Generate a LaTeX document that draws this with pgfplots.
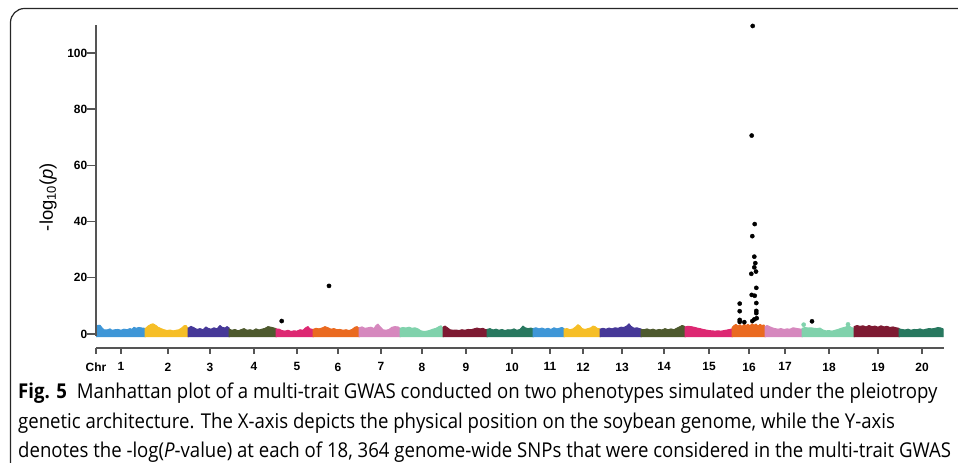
\documentclass[border=0pt]{standalone}
\usepackage{fontspec}
\usepackage{pgfplots}
\pgfplotsset{compat=1.18}
\setmainfont{Liberation Sans}
\newfontfamily\capfont[FakeStretch=0.91]{Open Sans}

\definecolor{cblue}{RGB}{62,150,215}
\definecolor{cyellow}{RGB}{246,190,38}
\definecolor{cpurple}{RGB}{70,56,152}
\definecolor{colive}{RGB}{78,90,46}
\definecolor{cpink}{RGB}{221,40,114}
\definecolor{corange}{RGB}{234,106,32}
\definecolor{clpink}{RGB}{214,136,190}
\definecolor{cmint}{RGB}{128,210,172}
\definecolor{cdred}{RGB}{126,26,50}
\definecolor{cteal}{RGB}{40,120,95}
\definecolor{axgray}{RGB}{85,85,85}

\begin{document}
\begin{tikzpicture}
\useasboundingbox (0,0) rectangle (958bp,463bp);

% frame of the figure box
\draw[line width=1.2bp, rounded corners=14bp, black!85] (10.5bp,-5bp) -- (10.5bp,454.5bp) -- (970bp,454.5bp);

\begin{axis}[
    at={(96bp,115bp)}, anchor=south west,
    scale only axis, width=848bp, height=328.77bp,
    xmin=0, xmax=848, ymin=-5, ymax=112,
    clip=false,
    axis x line*=bottom, axis y line*=left,
    y axis line style={draw=none},
    x axis line style={draw=axgray, line width=1.3bp},
    tick align=outside,
    major tick style={axgray, line width=1.3bp},
    xtick style={/pgfplots/major tick length=5.7bp},
    ytick style={/pgfplots/major tick length=8.7bp},
    ytick={0,20,40,60,80,100},
    xtick={0,25,72,114,158,201,242,285,326,370,416,454,487,526,568,613,653,689,733,782,826},
    xticklabels={Chr,1,2,3,4,5,6,7,8,9,10,11,12,13,14,15,16,17,18,19,20},
    /pgf/number format/assume math mode=true,
    ticklabel style={font=\fontsize{12}{14}\selectfont\bfseries},
    xticklabel style={yshift=-7bp},
    yticklabel style={xshift=-1bp},
    band/.style={fill=#1, draw=#1, line width=1bp, line join=round},
]
% chromosome 1
\addplot[band=cblue] coordinates {(0.5,-1.1) (0.5,2.2) (1.5,3.0) (4,3.1) (6,2.2) (8,1.5) (11,1.4) (14,1.8) (16,1.3) (19,1.5) (22,1.6) (25,1.3) (28,1.7) (31,1.5) (34,1.9) (36,1.6) (38,2.4) (40,2.0) (43,2.3) (46,2.1) (49,2.0) (49,-1.1)};
% chromosome 2
\addplot[band=cyellow] coordinates {(49,-1.1) (49,1.8) (52,2.8) (55,3.4) (57,3.6) (60,3.0) (62,2.4) (65,1.9) (68,1.5) (71,1.2) (74,1.4) (77,1.1) (80,1.3) (83,1.5) (86,2.2) (88,2.9) (90,3.0) (92,2.0) (92,-1.1)};
% chromosome 3
\addplot[band=cpurple] coordinates {(92,-1.1) (92,2.0) (95,2.7) (98,2.2) (101,1.6) (104,1.9) (107,1.5) (110,2.5) (112,2.0) (115,1.7) (118,2.2) (121,1.8) (124,3.0) (126,2.4) (129,2.1) (131,2.6) (133,2.2) (133,-1.1)};
% chromosome 4
\addplot[band=colive] coordinates {(133,-1.1) (133,1.8) (136,1.3) (139,1.6) (142,1.1) (145,1.5) (148,1.9) (151,1.3) (154,1.5) (157,1.2) (160,1.8) (163,1.4) (166,1.7) (169,2.0) (172,2.6) (175,2.4) (178,2.1) (180,1.9) (180,-1.1)};
% chromosome 5
\addplot[band=cpink] coordinates {(180,-1.1) (180,1.8) (183,1.7) (186,1.2) (189,1.0) (192,1.3) (195,0.9) (198,1.1) (201,1.0) (204,1.5) (207,1.3) (210,2.3) (212,2.6) (214,1.8) (217,1.6) (217,-1.1)};
% chromosome 6
\addplot[band=corange] coordinates {(217,-1.1) (217,1.6) (220,2.0) (223,1.8) (226,2.1) (229,2.6) (232,2.2) (235,1.7) (238,1.9) (241,1.5) (244,1.6) (247,1.3) (250,1.5) (253,1.2) (256,1.6) (259,2.4) (261,2.6) (263,2.0) (263,-1.1)};
% chromosome 7
\addplot[band=clpink] coordinates {(263,-1.1) (263,2.2) (266,2.5) (269,2.0) (272,2.2) (275,2.4) (278,1.9) (280,3.0) (282,3.5) (284,2.6) (287,1.5) (290,1.3) (293,1.6) (296,2.4) (299,2.6) (302,2.5) (304,2.0) (304,-1.1)};
% chromosome 8
\addplot[band=cmint] coordinates {(304,-1.1) (304,2.0) (307,2.3) (310,2.1) (313,2.4) (316,2.0) (319,2.2) (322,1.8) (325,1.1) (328,0.9) (331,1.0) (334,1.3) (337,1.7) (340,2.0) (343,2.6) (345,2.9) (347,2.0) (347,-1.1)};
% chromosome 9
\addplot[band=cdred] coordinates {(347,-1.1) (347,2.4) (349,2.8) (351,2.3) (354,1.5) (357,1.3) (360,1.4) (363,1.2) (366,1.5) (369,1.3) (372,1.6) (375,1.5) (378,1.8) (381,2.1) (384,1.8) (387,2.0) (389,1.6) (391,1.5) (391,-1.1)};
% chromosome 10
\addplot[band=cteal] coordinates {(391,-1.1) (391,1.6) (394,1.9) (397,1.4) (400,1.7) (403,1.3) (406,1.6) (409,1.2) (412,1.5) (415,1.4) (418,1.8) (421,1.3) (424,1.6) (427,2.8) (429,2.2) (432,1.9) (435,2.1) (437,1.8) (437,-1.1)};
% chromosome 11
\addplot[band=cblue] coordinates {(437,-1.1) (437,1.9) (440,2.2) (443,1.8) (446,2.1) (449,1.7) (452,2.0) (455,1.6) (458,2.2) (461,1.8) (464,2.1) (466,2.3) (468,1.9) (468,-1.1)};
% chromosome 12
\addplot[band=cyellow] coordinates {(468,-1.1) (468,1.7) (471,1.9) (474,1.5) (477,1.8) (480,2.6) (482,3.3) (484,2.8) (486,1.9) (489,1.6) (492,1.9) (495,2.2) (497,2.8) (499,2.6) (501,2.0) (504,1.8) (504,-1.1)};
% chromosome 13
\addplot[band=cpurple] coordinates {(504,-1.1) (504,1.7) (507,2.0) (510,1.7) (513,2.1) (516,1.8) (519,2.2) (522,2.0) (525,2.4) (528,2.3) (531,2.9) (533,3.6) (535,2.7) (538,2.0) (541,2.2) (543,1.9) (545,1.8) (545,-1.1)};
% chromosome 14
\addplot[band=colive] coordinates {(545,-1.1) (545,1.6) (548,1.5) (551,1.8) (554,1.4) (557,1.7) (560,1.3) (563,1.6) (566,1.4) (569,1.9) (572,1.5) (575,1.8) (578,1.5) (581,2.1) (584,2.6) (586,3.0) (588,2.8) (589,2.4) (589,-1.1)};
% chromosome 15
\addplot[band=cpink] coordinates {(589,-1.1) (589,2.5) (592,2.7) (595,2.6) (598,2.4) (601,2.1) (604,1.9) (607,1.6) (610,1.4) (613,1.2) (616,1.1) (619,1.0) (622,1.1) (625,1.0) (628,1.2) (631,1.4) (634,1.6) (636,1.8) (636,-1.1)};
% chromosome 16
\addplot[band=corange] coordinates {(636,-1.1) (636,2.2) (638,3.0) (640,3.4) (642,2.8) (644,3.3) (646,2.6) (648,3.5) (650,3.0) (652,3.4) (654,2.9) (656,3.6) (658,3.1) (660,3.5) (662,2.8) (664,3.4) (666,3.0) (668,3.2) (669,2.4) (669,-1.1)};
% chromosome 17
\addplot[band=clpink] coordinates {(669,-1.1) (669,2.6) (671,3.0) (673,2.7) (676,2.2) (679,1.9) (682,1.7) (685,1.9) (688,1.6) (691,1.8) (694,1.7) (697,2.2) (700,2.0) (703,1.8) (706,1.7) (706,-1.1)};
% chromosome 18
\addplot[band=cmint] coordinates {(706,-1.1) (706,2.0) (709,2.3) (712,2.1) (715,2.2) (718,2.0) (721,1.9) (724,2.1) (727,1.4) (730,1.1) (733,1.2) (736,1.0) (739,1.3) (742,1.6) (745,2.0) (748,2.3) (750,2.5) (752,3.0) (754,2.6) (756,2.2) (758,2.0) (758,-1.1)};
\addplot[only marks, mark=*, mark size=2.1bp, cmint] coordinates {(707.7,3.3) (752,3.4)};
% chromosome 19
\addplot[band=cdred] coordinates {(758,-1.1) (758,2.6) (761,3.0) (764,2.7) (767,2.9) (770,2.5) (773,3.0) (776,2.6) (779,2.8) (782,2.4) (785,2.9) (788,2.5) (791,2.7) (794,2.3) (797,2.5) (800,2.2) (803,2.0) (803,-1.1)};
% chromosome 20
\addplot[band=cteal] coordinates {(803,-1.1) (803,1.8) (806,1.6) (809,1.4) (812,1.7) (815,1.3) (818,1.6) (821,1.5) (824,1.8) (827,1.4) (830,1.7) (833,1.9) (836,1.8) (839,2.0) (842,2.3) (845,2.1) (847,1.8) (847,-1.1)};

% significant SNPs
\addplot[only marks, mark=*, mark size=2.1bp, black] coordinates {
  (185.7,4.6) (233,17.1) (716,4.5)
  (656.7,109.6) (655.7,70.6) (658.7,39.1) (656.3,34.8) (658.3,27.5)
  (659.3,25.2) (658.3,23.7) (660,22.2) (655.3,21.4) (660.3,16.4)
  (655.7,13.9) (658.7,13.6) (660.3,11.0) (643.7,10.8) (643.7,8.1)
  (660.3,8.2) (660.3,7.4) (643.7,5.0) (643.7,4.3) (648.3,4.2)
  (656.3,4.6) (658.3,5.2) (660.7,5.6)};

% y axis line, shorter than the plot box
\draw[axgray, line width=1.3bp] (axis cs:0,-0.7) -- (axis cs:0,110);
\end{axis}

\node[rotate=90, font=\fontsize{18.5}{20}\selectfont] at (48bp,266bp) {-log\textsubscript{10}(\textit{p})};

\begin{scope}[every node/.style={anchor=base west, inner sep=0pt, font=\capfont\fontsize{20.5}{24}\selectfont}]
\node at (18bp,64bp) {\textbf{Fig. 5}\hspace{10bp}Manhattan plot of a multi-trait GWAS conducted on two phenotypes simulated under the pleiotropy};
\node at (18bp,35bp) {genetic architecture. The X-axis depicts the physical position on the soybean genome, while the Y-axis};
\node at (18bp,6bp) {denotes the -log(\textit{P}-value) at each of 18, 364 genome-wide SNPs that were considered in the multi-trait GWAS};
\end{scope}
\end{tikzpicture}
\end{document}
